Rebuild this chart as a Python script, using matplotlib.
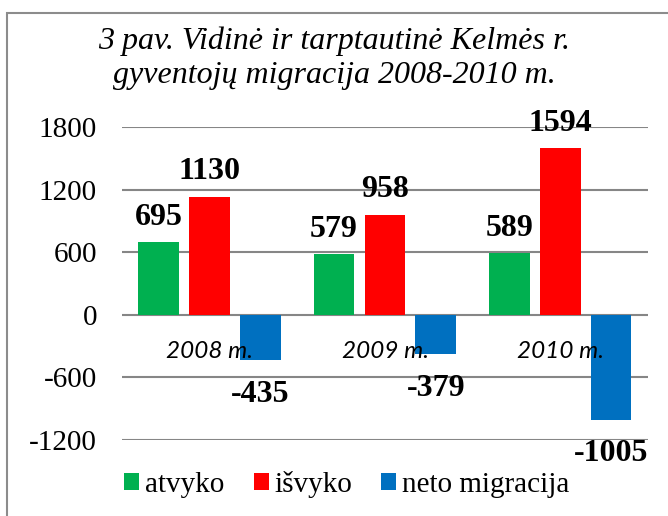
import numpy as np
import matplotlib.pyplot as plt
from matplotlib.patches import Rectangle

# duomenys
years = ["2008 m.", "2009 m.", "2010 m."]
atvyko = [695, 579, 589]
isvyko = [1130, 958, 1594]
neto = [-435, -379, -1005]
series_names = ["atvyko", "išvyko", "neto migracija"]
yticks = [-1200, -600, 0, 600, 1200, 1800]

colors = ["#00B050", "#FF0000", "#0070C0"]

fig = plt.figure(figsize=(6.68, 5.16), dpi=100)
ax = fig.add_axes([0.1826, 0.1473, 0.7874, 0.6066])

# ramelis aplink diagrama
fig.patches.append(Rectangle((7/668, -0.05), 1.2, 1 - 13/516 + 0.05, transform=fig.transFigure,
                             fill=False, edgecolor="#8c8c8c", linewidth=1.5))

x = np.arange(len(years))
w = 0.232
offs = [-0.29, 0.0, 0.29]
for vals, off, c, name in zip([atvyko, isvyko, neto], offs, colors, series_names):
    bars = ax.bar(x + off, vals, w, color=c, label=name, zorder=3)
    for b, v in zip(bars, vals):
        dy = 18 if v >= 0 else -24.5
        ax.annotate(str(v), (b.get_x() + b.get_width()/2, v), xytext=(0, dy),
                    textcoords="offset points", ha="center", va="center",
                    fontsize=23, fontweight="bold", family="Liberation Serif",
                    annotation_clip=False, zorder=5)

# kategoriju pavadinimai prie nulio linijos
for i, lab in enumerate(years):
    ax.text(i, -355, lab, ha="center", va="center", fontsize=17.5, style="italic",
            family="Lato", zorder=4)

ax.set_xlim(-0.5, 2.5)
ax.set_ylim(-1200, 1800)
ax.set_yticks(yticks)
ax.set_yticklabels([str(t) for t in yticks], family="Liberation Serif", fontsize=21)
ax.tick_params(axis="y", length=0, pad=18)
ax.set_xticks([])
ax.grid(axis="y", color="#868686", linewidth=1.5, zorder=0)
for s in ax.spines.values():
    s.set_visible(False)

fig.text(0.5, 1 - 58/516, "3 pav. Vidinė ir tarptautinė Kelmės r.\ngyventojų migracija 2008-2010 m.",
         ha="center", va="center", fontsize=23, style="italic", family="Liberation Serif",
         linespacing=1.22)

fig.legend(loc="center", bbox_to_anchor=(347/668, 1 - 484/516), ncol=3, frameon=False,
           prop={"family": "Liberation Serif", "size": 21}, handlelength=0.51, handleheight=0.51,
           handletextpad=0.2, columnspacing=1.0, borderpad=0)

fig.savefig("out.png", dpi=100)
